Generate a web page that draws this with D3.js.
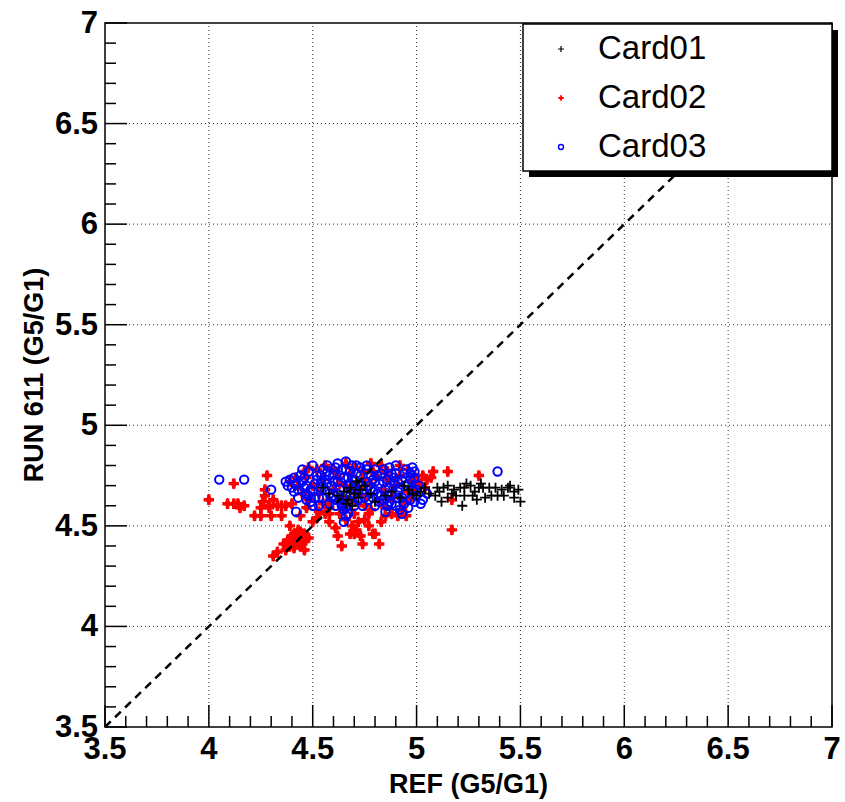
<!DOCTYPE html>
<html>
<head>
<meta charset="utf-8">
<script src="https://cdn.jsdelivr.net/npm/d3@7"></script>
<style>
  body { margin: 0; background: #fff; }
  text { font-family: "Liberation Sans", Arial, Helvetica, sans-serif; }
</style>
</head>
<body>
<div id="chart"></div>
<script>
// Card01 points [REF, RUN 611]
const card01 = [
  [5.04,4.69],[5.06,4.66],[5.09,4.65],[5.10,4.69],[5.12,4.62],[5.13,4.69],[5.15,4.70],[5.15,4.64],
  [5.18,4.68],[5.19,4.65],[5.21,4.69],[5.22,4.60],[5.23,4.69],[5.23,4.65],[5.26,4.70],[5.27,4.65],
  [5.28,4.67],[5.29,4.63],[5.30,4.69],[5.32,4.69],[5.33,4.64],[5.35,4.69],[5.36,4.65],[5.38,4.69],
  [5.39,4.65],[5.41,4.68],[5.42,4.65],[5.44,4.69],[5.47,4.64],[5.47,4.67],[5.50,4.62],[5.49,4.68],
  [5.02,4.67],[5.00,4.65],[4.98,4.66],[4.96,4.68],[5.24,4.71],[5.31,4.71],[5.45,4.70],[5.11,4.67],
  [5.17,4.66],[4.62,4.65],[4.65,4.67],[4.67,4.63],[4.68,4.69],[4.70,4.66],[4.72,4.64],[4.73,4.68],
  [4.75,4.70],[4.66,4.61],[4.58,4.66],[4.55,4.69],[4.78,4.66],[4.80,4.62],[4.85,4.65],[4.88,4.67],
  [4.92,4.64],[4.94,4.70],[4.71,4.72],[4.69,4.60]
];

// Card02 points
const card02 = [
  [4.00,4.63],[4.12,4.71],[4.28,4.75],[4.09,4.61],[4.12,4.61],[4.14,4.61],[4.17,4.60],[4.15,4.59],
  [4.22,4.55],[4.25,4.55],[4.27,4.68],[4.27,4.65],[4.26,4.62],[4.29,4.60],[4.31,4.63],[4.29,4.59],
  [4.33,4.60],[4.35,4.60],[4.37,4.60],[4.40,4.61],[4.35,4.55],[4.30,4.55],[4.44,4.55],[4.25,4.59],
  [4.39,4.50],[4.41,4.46],[4.40,4.45],[4.43,4.44],[4.41,4.42],[4.39,4.40],[4.44,4.40],[4.41,4.39],
  [4.37,4.38],[4.33,4.37],[4.46,4.43],[4.46,4.46],[4.44,4.47],[4.46,4.38],[4.45,4.41],[4.42,4.43],
  [4.38,4.43],[4.43,4.48],[4.36,4.41],[4.48,4.44],[4.31,4.35],
  [4.62,4.45],[4.64,4.40],[4.68,4.46],[4.73,4.45],[4.74,4.41],[4.79,4.46],[4.82,4.41],[4.58,4.52],
  [4.58,4.56],[4.71,4.48],[4.69,4.50],[4.70,4.46],[4.77,4.50],[4.80,4.46],[4.72,4.52],[4.56,4.56],
  [4.50,4.52],[4.88,4.56],[4.91,4.55],[4.95,4.55],[4.47,4.59],[4.48,4.63],[4.52,4.54],[4.61,4.49],
  [4.66,4.53],[4.75,4.53],[4.63,4.56],[4.83,4.52],[4.85,4.55],[4.53,4.57],[4.77,4.56],[4.70,4.56],
  [4.78,4.81],[4.83,4.80],[4.85,4.77],[4.96,4.78],[4.99,4.75],[5.00,4.72],[4.48,4.79],[4.52,4.78],
  [4.56,4.80],[4.60,4.78],[4.66,4.81],[4.70,4.79],[4.74,4.77],[4.42,4.74],[4.46,4.77],[4.39,4.72],
  [4.92,4.80],
  [5.08,4.77],[5.15,4.77],[5.30,4.75],[5.17,4.63],[5.17,4.48],[5.03,4.75],[5.05,4.73],[5.02,4.71],
  [5.07,4.74],[5.04,4.69],
  [4.50,4.70],[4.53,4.66],[4.55,4.73],[4.57,4.62],[4.60,4.68],[4.62,4.74],[4.64,4.64],[4.66,4.70],
  [4.68,4.76],[4.70,4.62],[4.72,4.69],[4.74,4.73],[4.76,4.65],[4.78,4.71],[4.80,4.75],[4.82,4.62],
  [4.84,4.68],[4.86,4.73],[4.88,4.64],[4.90,4.70],[4.92,4.75],[4.94,4.61],[4.96,4.67],[4.98,4.72],
  [4.45,4.66],[4.43,4.70],[4.47,4.74],[4.58,4.59],[4.75,4.60],[4.85,4.59],[4.93,4.58],[4.97,4.63],
  [4.65,4.58],[4.78,4.58],[4.99,4.69],[4.79,4.77],[4.71,4.66],[4.63,4.71],[4.55,4.61],[4.86,4.77]
];

// Card03 points
const card03 = [
  [4.05,4.73],[4.17,4.73],[4.30,4.68],[4.42,4.57],[5.39,4.77],
  [4.37,4.72],[4.38,4.70],[4.39,4.73],[4.40,4.69],[4.42,4.71],[4.41,4.74],[4.43,4.68],[4.45,4.72],
  [4.44,4.75],[4.46,4.69],[4.48,4.65],[4.49,4.62],[4.47,4.63],[4.50,4.67],[4.51,4.71],[4.52,4.75],
  [4.48,4.77],[4.53,4.64],[4.54,4.69],[4.55,4.78],[4.56,4.73],[4.57,4.80],[4.58,4.66],[4.59,4.70],
  [4.60,4.76],[4.61,4.63],[4.62,4.81],[4.62,4.72],[4.63,4.68],[4.64,4.78],[4.65,4.74],[4.66,4.82],
  [4.66,4.65],[4.67,4.70],[4.68,4.77],[4.69,4.62],[4.70,4.73],[4.71,4.80],[4.72,4.67],[4.73,4.75],
  [4.74,4.70],[4.75,4.64],[4.76,4.78],[4.58,4.61],[4.53,4.60],[4.56,4.68],[4.60,4.65],[4.64,4.61],
  [4.52,4.73],[4.47,4.70],[4.70,4.66],[4.63,4.75],[4.58,4.75],[4.68,4.71],[4.66,4.78],
  [4.65,4.58],[4.66,4.55],[4.65,4.52],[4.67,4.56],[4.64,4.60],[4.66,4.59],[4.50,4.60],[4.47,4.66],
  [4.77,4.63],[4.78,4.68],[4.79,4.73],[4.80,4.60],[4.81,4.66],[4.82,4.71],[4.83,4.76],[4.84,4.63],
  [4.85,4.68],[4.85,4.57],[4.86,4.73],[4.87,4.79],[4.88,4.61],[4.88,4.66],[4.89,4.71],[4.90,4.76],
  [4.91,4.64],[4.92,4.69],[4.92,4.58],[4.93,4.73],[4.94,4.61],[4.95,4.66],[4.95,4.78],[4.96,4.71],
  [4.97,4.63],[4.98,4.68],[4.99,4.74],[5.00,4.65],[5.01,4.70],[4.93,4.56],[4.90,4.80],[4.76,4.80],
  [4.80,4.78],[4.72,4.63],[4.74,4.60],[4.86,4.60],[4.96,4.59],[5.02,4.67],[4.82,4.62],[4.89,4.74],
  [4.83,4.65],[4.97,4.76],[4.78,4.75],[5.03,4.63],[5.05,4.66],[5.02,4.61],
  [4.45,4.78],[4.50,4.80],[4.54,4.75],[4.57,4.71],[4.61,4.79],[4.69,4.80],[4.73,4.79],[4.74,4.66],
  [4.76,4.72],[4.79,4.64],[4.81,4.75],[4.84,4.72],[4.87,4.69],[4.91,4.72],[4.94,4.76],[4.98,4.79],
  [4.99,4.62],[4.90,4.60],[4.86,4.65],[4.55,4.64],[4.61,4.60],[4.70,4.60],[4.62,4.66],[4.68,4.65],
  [4.43,4.64],[4.41,4.67],
  [4.46,4.74],[4.49,4.68],[4.51,4.64],[4.54,4.72],[4.57,4.77],[4.59,4.64],[4.60,4.72],[4.63,4.63],
  [4.67,4.74],[4.69,4.68],[4.71,4.76],[4.72,4.71],[4.77,4.70],[4.79,4.67],[4.80,4.72],[4.84,4.78],
  [4.87,4.62],[4.88,4.76],[4.91,4.67],[4.93,4.64],[4.95,4.70],[4.97,4.73],[5.00,4.68],[4.99,4.77]
];

// axis range and tick labels
const axisRange = [3.5, 7];
const tickLabels = [3.5, 4, 4.5, 5, 5.5, 6, 6.5, 7];
const legendNames = ["Card01", "Card02", "Card03"];

const width = 845;
const height = 802;
const margin = { left: 105, right: 13, top: 23, bottom: 75 };

const svg = d3.select("#chart")
  .append("svg")
  .attr("width", width)
  .attr("height", height)
  .style("background-color", "#fff");

const x = d3.scaleLinear().domain(axisRange).range([margin.left, width - margin.right]);
const y = d3.scaleLinear().domain(axisRange).range([height - margin.bottom, margin.top]);

// dotted grid on the major ticks
const grid = svg.append("g");
tickLabels.slice(1, -1).forEach(v => {
  grid.append("line")
    .attr("x1", x(v)).attr("x2", x(v))
    .attr("y1", y(axisRange[0])).attr("y2", y(axisRange[1]))
    .attr("stroke", "#333").attr("stroke-width", 1)
    .attr("stroke-dasharray", "1,3");
  grid.append("line")
    .attr("x1", x(axisRange[0])).attr("x2", x(axisRange[1]))
    .attr("y1", y(v)).attr("y2", y(v))
    .attr("stroke", "#333").attr("stroke-width", 1)
    .attr("stroke-dasharray", "1,3");
});

// markers: red filled crosses (with a small diamond core), blue open circles, black plus signs
const red = svg.append("g");
const redPts = red.selectAll("g")
  .data(card02)
  .enter().append("g")
  .attr("transform", d => `translate(${x(d[0])},${y(d[1])})`)
  .attr("fill", "#ff0000");
redPts.append("path").attr("d", d3.symbol(d3.symbolCross, 60));
redPts.append("path").attr("d", d3.symbol(d3.symbolDiamond, 40));

const blue = svg.append("g");
blue.selectAll("circle")
  .data(card03)
  .enter().append("circle")
  .attr("cx", d => x(d[0]))
  .attr("cy", d => y(d[1]))
  .attr("r", 4.2)
  .attr("fill", "none")
  .attr("stroke", "#0000ff")
  .attr("stroke-width", 2);

const black = svg.append("g");
black.selectAll("path")
  .data(card01)
  .enter().append("path")
  .attr("d", d => `M${x(d[0]) - 5},${y(d[1])}h10M${x(d[0])},${y(d[1]) - 5}v10`)
  .attr("stroke", "#000")
  .attr("stroke-width", 1.8);

// dashed y = x line
svg.append("line")
  .attr("x1", x(axisRange[0])).attr("y1", y(axisRange[0]))
  .attr("x2", x(axisRange[1])).attr("y2", y(axisRange[1]))
  .attr("stroke", "#000")
  .attr("stroke-width", 2.5)
  .attr("stroke-dasharray", "8,6");

// inward ticks on the bottom and left
const gx = svg.append("g").attr("transform", `translate(0,${y(axisRange[0])})`);
const gy = svg.append("g").attr("transform", `translate(${x(axisRange[0])},0)`);

d3.range(35, 71).forEach(i => {
  const v = i / 10;
  const len = i % 5 === 0 ? 22 : 11;
  gx.append("line")
    .attr("x1", x(v)).attr("x2", x(v))
    .attr("y1", 0).attr("y2", -len)
    .attr("stroke", "#000").attr("stroke-width", 1.5);
  gy.append("line")
    .attr("y1", y(v)).attr("y2", y(v))
    .attr("x1", 0).attr("x2", len)
    .attr("stroke", "#000").attr("stroke-width", 1.5);
});

gx.selectAll("text")
  .data(tickLabels)
  .enter().append("text")
  .attr("x", d => x(d))
  .attr("y", 32)
  .attr("text-anchor", "middle")
  .attr("font-size", "31px")
  .attr("font-weight", "bold")
  .text(d => d);

gy.selectAll("text")
  .data(tickLabels)
  .enter().append("text")
  .attr("x", -7)
  .attr("y", d => y(d) + 10)
  .attr("text-anchor", "end")
  .attr("font-size", "31px")
  .attr("font-weight", "bold")
  .text(d => d);

// frame
svg.append("rect")
  .attr("x", x(axisRange[0]))
  .attr("y", y(axisRange[1]))
  .attr("width", x(axisRange[1]) - x(axisRange[0]))
  .attr("height", y(axisRange[0]) - y(axisRange[1]))
  .attr("fill", "none")
  .attr("stroke", "#000")
  .attr("stroke-width", 1.5);

// axis titles
svg.append("text")
  .attr("x", (x(axisRange[0]) + x(axisRange[1])) / 2)
  .attr("y", 793)
  .attr("text-anchor", "middle")
  .attr("font-size", "27px")
  .attr("font-weight", "bold")
  .text("REF (G5/G1)");

svg.append("text")
  .attr("transform", `translate(43,${(y(axisRange[0]) + y(axisRange[1])) / 2}) rotate(-90)`)
  .attr("text-anchor", "middle")
  .attr("font-size", "27px")
  .attr("font-weight", "bold")
  .text("RUN 611 (G5/G1)");

// legend box with shadow
const legend = svg.append("g");
legend.append("rect")
  .attr("x", 529).attr("y", 30)
  .attr("width", 309).attr("height", 147)
  .attr("fill", "#000");
legend.append("rect")
  .attr("x", 523).attr("y", 24)
  .attr("width", 309).attr("height", 147)
  .attr("fill", "#fff")
  .attr("stroke", "#000")
  .attr("stroke-width", 1.5);

const rowY = [49, 98, 147];
legend.selectAll("text")
  .data(legendNames)
  .enter().append("text")
  .attr("x", 598)
  .attr("y", (d, i) => rowY[i] + 10)
  .attr("font-size", "33px")
  .text(d => d);

legend.append("path")
  .attr("d", `M558,${rowY[0]}h6M561,${rowY[0] - 3}v6`)
  .attr("stroke", "#000").attr("stroke-width", 1.2);
legend.append("path")
  .attr("d", d3.symbol(d3.symbolCross, 16))
  .attr("transform", `translate(561,${rowY[1]})`)
  .attr("fill", "#ff0000");
legend.append("circle")
  .attr("cx", 561).attr("cy", rowY[2]).attr("r", 2.5)
  .attr("fill", "none").attr("stroke", "#0000ff").attr("stroke-width", 1.4);
</script>
</body>
</html>
